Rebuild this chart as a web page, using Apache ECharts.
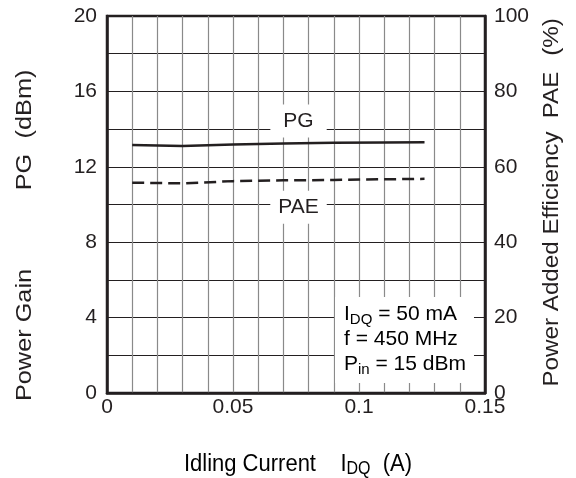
<!DOCTYPE html>
<html>
<head>
<meta charset="utf-8">
<script src="https://cdn.jsdelivr.net/npm/echarts@6/dist/echarts.min.js"></script>
<style>
  html, body { margin: 0; padding: 0; background: #fff; }
  #chart { width: 576px; height: 478px; }
</style>
</head>
<body>
<div id="chart"></div>
<script>
// Idling current sweep (A)
const idq = [0.01, 0.03, 0.05, 0.07, 0.09, 0.11, 0.126];
// Power gain (dBm), left axis
const powerGain = [13.16, 13.10, 13.18, 13.23, 13.27, 13.29, 13.30];
// Power added efficiency (%), right axis
const pae = [55.8, 55.6, 56.2, 56.4, 56.5, 56.7, 56.8];

// Curve tags: [x, y] in each curve's own axis units
const pgTag = [0.076, 14.43];
const paeTag = [0.076, 49.3];

const INK = '#231f20';
const FONT = 'Liberation Sans, Arial, Helvetica, sans-serif';

const chart = echarts.init(document.getElementById('chart'), null, { renderer: 'canvas' });

const pairs = (xs, ys) => xs.map((x, i) => [x, ys[i]]);

const tagLabel = (text, padH) => ({
  show: true,
  position: 'inside',
  formatter: text,
  color: INK,
  fontFamily: FONT,
  fontSize: 21,
  backgroundColor: '#fff',
  padding: [6, padH, 6, padH]
});

// Rotated axis-title piece, reading bottom to top
const vText = (text, x, y, stretch) => ({
  type: 'text', x: x, y: y, rotation: Math.PI / 2, scaleX: stretch,
  style: {
    text: text, fontFamily: FONT, fontSize: 22, fill: INK,
    align: 'center', verticalAlign: 'middle'
  }
});

chart.setOption({
  animation: false,
  backgroundColor: '#fff',
  grid: {
    left: 107, right: 91, top: 16, bottom: 85,
    show: true, borderColor: INK, borderWidth: 2.5, backgroundColor: 'transparent'
  },
  xAxis: {
    type: 'value', min: 0, max: 0.15, interval: 0.01,
    axisLine: { show: true, onZero: false, lineStyle: { color: INK, width: 2.5 } },
    axisTick: { show: false },
    splitLine: { show: true, lineStyle: { color: '#8a8a8a', width: 1.2 } },
    axisLabel: {
      color: INK, fontFamily: FONT, fontSize: 21, margin: 4,
      formatter: v => {
        const k = Math.round(v * 100);
        if (k % 5 !== 0) return '';
        return k === 0 ? '0' : String(+v.toFixed(2));
      }
    }
  },
  yAxis: [
    {
      type: 'value', min: 0, max: 20, interval: 2, position: 'left',
      axisLine: { show: true, lineStyle: { color: INK, width: 2.5 } },
      axisTick: { show: false },
      splitLine: { show: true, lineStyle: { color: INK, width: 1.2 } },
      axisLabel: {
        color: INK, fontFamily: FONT, fontSize: 21, margin: 10,
        formatter: v => (Math.round(v) % 4 === 0 ? String(Math.round(v)) : '')
      }
    },
    {
      type: 'value', min: 0, max: 100, interval: 20, position: 'right',
      axisLine: { show: true, lineStyle: { color: INK, width: 2.5 } },
      axisTick: { show: false },
      splitLine: { show: false },
      axisLabel: { color: INK, fontFamily: FONT, fontSize: 21, margin: 9 }
    }
  ],
  series: [
    {
      name: 'PG', type: 'line', yAxisIndex: 0,
      data: pairs(idq, powerGain),
      showSymbol: false, symbol: 'none',
      lineStyle: { color: INK, width: 2.5 },
      z: 5,
      markPoint: {
        symbol: 'rect', symbolSize: 0,
        label: tagLabel('PG', 13),
        data: [{ coord: pgTag }]
      }
    },
    {
      name: 'PAE', type: 'line', yAxisIndex: 1,
      data: pairs(idq, pae),
      showSymbol: false, symbol: 'none',
      lineStyle: { color: INK, width: 2.5, type: [12, 6] },
      z: 5,
      markPoint: {
        symbol: 'rect', symbolSize: 0,
        label: tagLabel('PAE', 8),
        data: [{ coord: paeTag }]
      }
    }
  ],
  graphic: [
    {
      type: 'text', left: 335, top: 297, z: 10,
      style: {
        text: '{m|I}{s|DQ}{m| = 50 mA}\n{m|f = 450 MHz}\n{m|P}{s|in}{m| = 15 dBm}',
        backgroundColor: '#fff',
        padding: [5, 8, 6, 9],
        rich: {
          m: { fontFamily: FONT, fontSize: 21, color: INK, lineHeight: 25 },
          s: { fontFamily: FONT, fontSize: 15, color: INK, lineHeight: 25, verticalAlign: 'bottom', padding: [10, 0, 0, 0] }
        }
      }
    },
    // Left axis title
    vText('Power Gain', 25, 335, 1.15),
    vText('PG', 25, 172, 1.15),
    vText('(dBm)', 25, 104, 1.15),
    // Right axis title
    vText('Power Added Efficiency', 552, 259, 1.1),
    vText('PAE', 552, 95, 1.1),
    vText('(%)', 552, 37, 1.1),
    // Bottom axis title
    {
      type: 'text', x: 298, y: 464, scaleY: 1.1,
      style: {
        text: '{m|Idling Current    I}{s|DQ}{m|  (A)}',
        align: 'center', verticalAlign: 'middle',
        rich: {
          m: { fontFamily: FONT, fontSize: 22, color: INK, lineHeight: 26 },
          s: { fontFamily: FONT, fontSize: 16, color: INK, lineHeight: 26, verticalAlign: 'bottom', padding: [10, 0, 0, 0] }
        }
      }
    }
  ]
});
</script>
</body>
</html>
